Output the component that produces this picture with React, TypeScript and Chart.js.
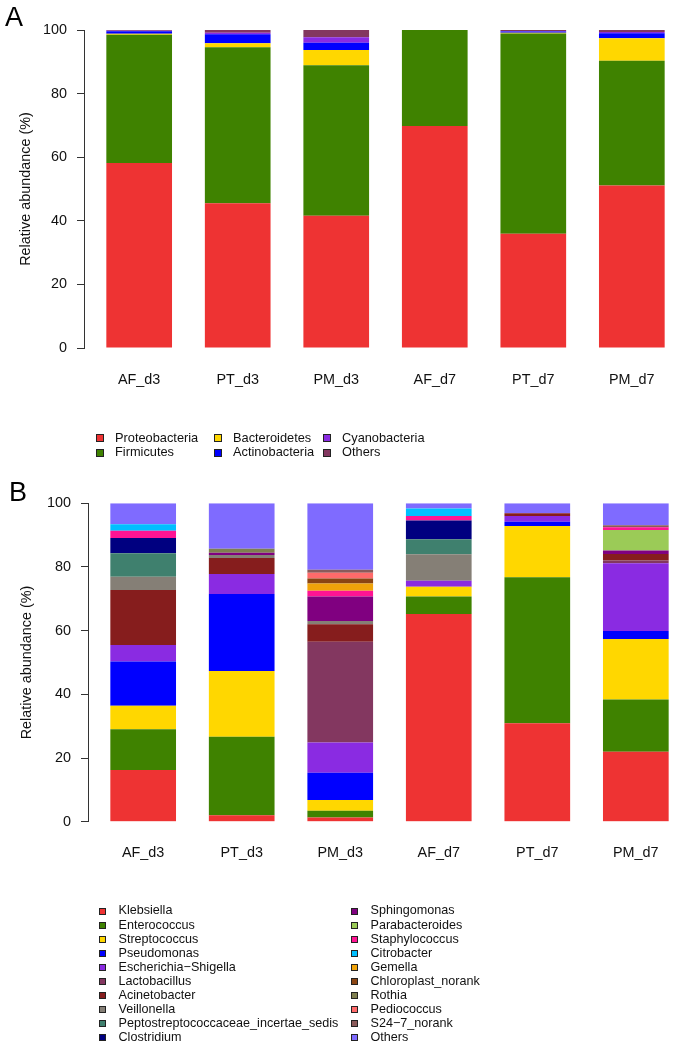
import React, { useEffect, useRef } from 'react';
import { Chart, registerables } from 'chart.js';

Chart.register(...registerables);

const FONT = "'Liberation Sans', Arial, Helvetica, sans-serif";

// ---- shared ----
const categories = ['AF_d3', 'PT_d3', 'PM_d3', 'AF_d7', 'PT_d7', 'PM_d7'];
const yTicks = [0, 20, 40, 60, 80, 100];
const yTitle = 'Relative abundance (%)';

// ---- panel A (phylum) ----
const phylumNames = ['Proteobacteria', 'Firmicutes', 'Bacteroidetes', 'Actinobacteria', 'Cyanobacteria', 'Others'];
const phylumColors = ['#EE3333', '#3F8200', '#FFD700', '#0000FF', '#8A2BE2', '#833760'];
const proteobacteria = [58.2, 45.5, 41.6, 69.8, 35.9, 51.1];
const firmicutes = [40.3, 49.1, 47.3, 30.2, 63.0, 39.2];
const bacteroidetes = [0.3, 1.2, 4.8, 0, 0.2, 7.1];
const actinobacteria = [0.8, 2.9, 2.3, 0, 0.4, 1.55];
const cyanobacteria = [0.2, 0.4, 1.7, 0, 0.2, 0.4];
const othersPhylum = [0.2, 0.9, 2.3, 0, 0.3, 0.65];
const phylumValues = [proteobacteria, firmicutes, bacteroidetes, actinobacteria, cyanobacteria, othersPhylum];

// ---- panel B (genus) ----
const genusNames = [
  'Klebsiella', 'Enterococcus', 'Streptococcus', 'Pseudomonas', 'Escherichia\u2212Shigella',
  'Lactobacillus', 'Acinetobacter', 'Veillonella', 'Peptostreptococcaceae_incertae_sedis', 'Clostridium',
  'Sphingomonas', 'Parabacteroides', 'Staphylococcus', 'Citrobacter', 'Gemella',
  'Chloroplast_norank', 'Rothia', 'Pediococcus', 'S24\u22127_norank', 'Others',
];
const genusColors = [
  '#EE3333', '#3F8200', '#FFD700', '#0000FF', '#8A2BE2',
  '#833760', '#861D1D', '#857F76', '#3F806E', '#000080',
  '#800080', '#9BCB57', '#FF1493', '#00BFFF', '#F0A30A',
  '#8B4513', '#7F7F4F', '#FF6A6A', '#8B5A5A', '#7F6BFF',
];
const klebsiella = [16.2, 2.0, 1.3, 65.2, 30.9, 22.0];
const enterococcus = [12.8, 24.7, 2.1, 5.5, 45.9, 16.4];
const streptococcus = [7.4, 20.6, 3.4, 3.1, 16.1, 19.0];
const pseudomonas = [13.9, 24.2, 8.6, 0, 1.3, 2.5];
const escherichia = [5.2, 6.3, 9.5, 1.9, 1.8, 21.3];
const lactobacillus = [0, 0, 31.6, 0, 0, 0.8];
const acinetobacter = [17.3, 5.0, 5.5, 0, 0.9, 2.1];
const veillonella = [4.1, 1.0, 1.0, 8.3, 0, 0];
const peptostrep = [7.4, 0, 0, 4.7, 0, 0];
const clostridium = [4.8, 0, 0, 5.9, 0, 0];
const sphingomonas = [0, 0.7, 7.7, 0, 0, 1.1];
const parabacteroides = [0, 0, 0, 0, 0, 6.4];
const staphylococcus = [2.3, 0, 1.8, 1.4, 0, 0.9];
const citrobacter = [2.0, 0, 0, 2.4, 0, 0];
const gemella = [0, 0, 2.3, 0, 0, 0];
const chloroplast = [0, 0, 1.6, 0, 0, 0];
const rothia = [0, 1.2, 0, 0, 0, 0];
const pediococcus = [0, 0, 1.8, 0, 0, 0];
const s247 = [0, 0, 0.9, 0, 0, 0.6];
const othersGenus = [6.6, 14.3, 20.9, 1.6, 3.1, 6.9];
const genusValues = [
  klebsiella, enterococcus, streptococcus, pseudomonas, escherichia,
  lactobacillus, acinetobacter, veillonella, peptostrep, clostridium,
  sphingomonas, parabacteroides, staphylococcus, citrobacter, gemella,
  chloroplast, rothia, pediococcus, s247, othersGenus,
];

// R barplot geometry: bar width 1, space 0.5 -> midpoints 1, 2.5, 4, ...
const barMid = categories.map((_, i) => 1 + 1.5 * i);
const barSpan = barMid[barMid.length - 1] + 0.5 - 0.5;
const xMin = 0.5 - 0.04 * barSpan;
const xMax = barMid[barMid.length - 1] + 0.5 + 0.04 * barSpan;

type LegendCfg = {
  top: number; rowHeight: number; rows: number; colX: number[];
  box: number; textOffset: number; fontSize: number;
};

function makeLegendPlugin(cfg: LegendCfg) {
  return {
    id: 'columnLegend',
    afterDraw(chart: any) {
      const ctx = chart.ctx;
      ctx.save();
      ctx.font = `${cfg.fontSize}px ${FONT}`;
      ctx.textBaseline = 'middle';
      ctx.textAlign = 'left';
      chart.data.datasets.forEach((ds: any, i: number) => {
        const col = Math.floor(i / cfg.rows);
        const row = i % cfg.rows;
        const x = cfg.colX[col];
        const y = cfg.top + row * cfg.rowHeight;
        const s = cfg.box;
        ctx.fillStyle = ds.backgroundColor;
        ctx.fillRect(Math.round(x), Math.round(y - s / 2), s, s);
        ctx.strokeStyle = '#222';
        ctx.lineWidth = 1;
        ctx.strokeRect(Math.round(x) + 0.5, Math.round(y - s / 2) + 0.5, s - 1, s - 1);
        ctx.fillStyle = '#111';
        ctx.fillText(ds.label, x + cfg.textOffset, y);
      });
      ctx.restore();
    },
  };
}

type PanelProps = {
  letter: string;
  names: string[];
  colors: string[];
  values: number[][];
  width: number;
  height: number;
  left: number;
  top: number;
  chartTop: number;
  chartBottom: number;
  letterCenter: number;
  yTitlePad: number;
  xLabelPad: number;
  legend: LegendCfg;
};

function Panel(p: PanelProps) {
  const ref = useRef<HTMLCanvasElement | null>(null);
  useEffect(() => {
    if (!ref.current) return;
    const letterSize = 27;
    const titleLine = letterSize * 0.8;
    const padTop = p.letterCenter - titleLine / 2;
    const chart = new Chart(ref.current, {
      type: 'bar',
      data: {
        datasets: p.names.map((name, k) => ({
          label: name,
          data: p.values[k].map((v, i) => ({ x: barMid[i], y: v })),
          backgroundColor: p.colors[k],
          borderWidth: 0,
          barPercentage: 1,
          categoryPercentage: 1 / 1.5,
        })),
      },
      options: {
        responsive: false,
        animation: false,
        devicePixelRatio: 1,
        layout: { padding: { left: 5, right: 13, top: 0, bottom: 0 } },
        plugins: {
          legend: { display: false },
          tooltip: { enabled: false },
          title: {
            display: true,
            text: p.letter,
            align: 'start',
            color: '#000',
            font: { family: FONT, size: letterSize, weight: 'normal', lineHeight: 0.8 },
            padding: { top: padTop, bottom: p.chartTop - titleLine - padTop },
          },
        },
        scales: {
          x: {
            type: 'linear',
            stacked: true,
            offset: false,
            min: xMin,
            max: xMax,
            afterBuildTicks: (scale: any) => {
              scale.ticks = barMid.map((v) => ({ value: v }));
            },
            afterFit: (scale: any) => {
              scale.height = p.height - p.chartBottom;
            },
            grid: { display: false, drawTicks: false, offset: false },
            border: { display: false },
            ticks: {
              autoSkip: false,
              maxRotation: 0,
              padding: p.xLabelPad,
              color: '#111',
              font: { family: FONT, size: 14.4 },
              callback: (_v: any, i: number) => categories[i],
            },
          },
          y: {
            stacked: true,
            min: 0,
            max: 100,
            afterBuildTicks: (scale: any) => {
              scale.ticks = yTicks.map((v) => ({ value: v }));
            },
            afterFit: (scale: any) => {
              scale.width = 79;
            },
            grid: {
              display: true,
              drawOnChartArea: false,
              drawTicks: true,
              tickLength: 7,
              tickColor: '#333',
              tickWidth: 1,
            },
            border: { display: true, color: '#333', width: 1 },
            ticks: {
              padding: 10,
              color: '#111',
              font: { family: FONT, size: 14.4 },
            },
            title: {
              display: true,
              text: yTitle,
              color: '#111',
              font: { family: FONT, size: 14.4 },
              padding: { top: p.yTitlePad, bottom: 0 },
            },
          },
        },
      },
      plugins: [makeLegendPlugin(p.legend)],
    } as any);
    return () => chart.destroy();
  }, []);
  return (
    <canvas
      ref={ref}
      width={p.width}
      height={p.height}
      style={{ position: 'absolute', left: p.left, top: p.top, width: p.width, height: p.height, display: 'block' }}
    />
  );
}

export default function App() {
  return (
    <div
      style={{
        position: 'absolute', left: 0, top: 0, width: 675, height: 1045,
        overflow: 'hidden', background: '#fff',
      }}
    >
      <Panel
        letter="A"
        names={phylumNames}
        colors={phylumColors}
        values={phylumValues}
        width={700}
        height={470}
        left={0}
        top={0}
        chartTop={30}
        chartBottom={348}
        letterCenter={18.5}
        yTitlePad={12}
        xLabelPad={23}
        legend={{ top: 438, rowHeight: 14.5, rows: 2, colX: [96, 214, 323], box: 8, textOffset: 19, fontSize: 12.8 }}
      />
      <Panel
        letter="B"
        names={genusNames}
        colors={genusColors}
        values={genusValues}
        width={700}
        height={575}
        left={4}
        top={470}
        chartTop={33.3}
        chartBottom={351.7}
        letterCenter={24}
        yTitlePad={9}
        xLabelPad={22.5}
        legend={{ top: 441, rowHeight: 14.1, rows: 10, colX: [94.5, 346.5], box: 7, textOffset: 20, fontSize: 12.6 }}
      />
    </div>
  );
}
